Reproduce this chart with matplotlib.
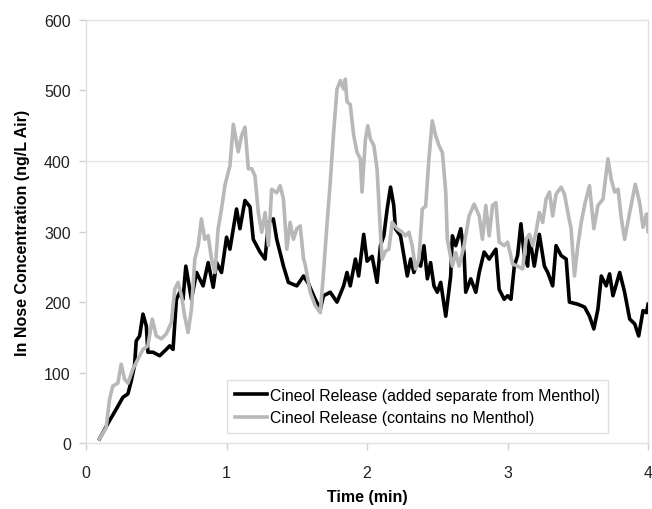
import matplotlib
matplotlib.use("Agg")
import matplotlib.pyplot as plt

plt.rcParams['font.family'] = ['Liberation Sans', 'DejaVu Sans']

# Cineol added separate from menthol (black)
t_black = [0.095, 0.167, 0.214, 0.262, 0.298, 0.32, 0.345, 0.357, 0.381, 0.405,
           0.429, 0.44, 0.476, 0.524, 0.571, 0.595, 0.619, 0.643, 0.667, 0.69,
           0.71, 0.75, 0.786, 0.833, 0.869, 0.905, 0.929, 0.964, 1.0, 1.024,
           1.071, 1.095, 1.131, 1.167, 1.19, 1.238, 1.274, 1.298, 1.333, 1.357,
           1.405, 1.44, 1.5, 1.548, 1.583, 1.631, 1.667, 1.69, 1.738, 1.786,
           1.833, 1.857, 1.88, 1.917, 1.94, 1.976, 2.0, 2.036, 2.071, 2.095,
           2.119, 2.143, 2.167, 2.19, 2.202, 2.238, 2.262, 2.286, 2.31, 2.333,
           2.357, 2.381, 2.405, 2.429, 2.452, 2.476, 2.5, 2.524, 2.56, 2.595,
           2.607, 2.631, 2.667, 2.69, 2.702, 2.738, 2.774, 2.798, 2.833, 2.869,
           2.917, 2.94, 2.976, 3.0, 3.024, 3.048, 3.071, 3.095, 3.119, 3.143,
           3.155, 3.19, 3.226, 3.262, 3.286, 3.321, 3.345, 3.381, 3.417, 3.44,
           3.5, 3.548, 3.583, 3.614, 3.643, 3.667, 3.702, 3.726, 3.75, 3.798,
           3.833, 3.869, 3.905, 3.933, 3.964, 3.988, 4.0]
v_black = [6, 32, 48, 65, 70, 87, 110, 145, 152, 183,
           166, 129, 129, 124, 133, 138, 133, 204, 214, 204,
           251, 204, 242, 223, 256, 221, 256, 242, 292, 275,
           332, 304, 344, 335, 289, 271, 261, 313, 318, 289,
           251, 228, 223, 237, 226, 204, 190, 209, 214, 200,
           223, 242, 223, 261, 237, 296, 258, 265, 228, 280,
           294, 332, 363, 337, 304, 294, 266, 237, 261, 242,
           256, 251, 280, 233, 256, 223, 214, 228, 180, 237,
           294, 280, 304, 270, 214, 233, 214, 242, 271, 261,
           275, 218, 204, 209, 204, 251, 266, 311, 266, 251,
           294, 251, 296, 251, 242, 223, 280, 266, 261, 200,
           197, 193, 180, 162, 190, 237, 223, 240, 209, 242,
           214, 176, 169, 152, 188, 185, 197]

# Cineol, no menthol (grey)
t_grey = [0.095, 0.143, 0.167, 0.19, 0.226, 0.25, 0.274, 0.298, 0.333, 0.369,
          0.405, 0.44, 0.471, 0.5, 0.536, 0.571, 0.607, 0.631, 0.655, 0.679,
          0.702, 0.726, 0.75, 0.774, 0.798, 0.821, 0.845, 0.869, 0.893, 0.917,
          0.94, 0.964, 0.988, 1.0, 1.024, 1.048, 1.083, 1.107, 1.131, 1.155,
          1.179, 1.202, 1.226, 1.25, 1.274, 1.298, 1.321, 1.357, 1.381, 1.405,
          1.429, 1.452, 1.476, 1.5, 1.524, 1.548, 1.56, 1.595, 1.631, 1.667,
          1.69, 1.714, 1.738, 1.762, 1.786, 1.81, 1.833, 1.845, 1.857, 1.88,
          1.905, 1.929, 1.952, 1.964, 1.988, 2.005, 2.024, 2.048, 2.071, 2.095,
          2.107, 2.131, 2.155, 2.179, 2.214, 2.25, 2.274, 2.298, 2.321, 2.345,
          2.369, 2.393, 2.417, 2.44, 2.464, 2.488, 2.512, 2.536, 2.56, 2.571,
          2.607, 2.631, 2.655, 2.69, 2.726, 2.762, 2.798, 2.821, 2.845, 2.869,
          2.893, 2.917, 2.94, 2.976, 3.0, 3.036, 3.071, 3.107, 3.131, 3.155,
          3.179, 3.202, 3.226, 3.25, 3.274, 3.298, 3.321, 3.345, 3.381, 3.405,
          3.429, 3.452, 3.476, 3.5, 3.524, 3.552, 3.583, 3.614, 3.643, 3.679,
          3.714, 3.738, 3.762, 3.786, 3.81, 3.833, 3.869, 3.909, 3.94, 3.964,
          3.988, 4.0]
v_grey = [6, 22, 62, 81, 85, 112, 91, 85, 105, 119,
          133, 138, 176, 152, 148, 155, 171, 218, 228, 209,
          180, 157, 190, 261, 280, 318, 289, 294, 261, 242,
          304, 332, 365, 375, 393, 452, 413, 436, 448, 389,
          389, 379, 327, 299, 327, 280, 360, 355, 365, 346,
          275, 313, 289, 304, 308, 261, 253, 214, 195, 185,
          242, 308, 370, 441, 502, 514, 502, 516, 484, 480,
          436, 412, 403, 356, 430, 450, 431, 422, 389, 299,
          261, 272, 275, 313, 304, 299, 294, 299, 280, 247,
          261, 332, 336, 403, 457, 436, 422, 412, 356, 289,
          251, 270, 251, 280, 322, 339, 322, 289, 337, 294,
          337, 341, 285, 280, 285, 254, 251, 247, 289, 296,
          280, 299, 327, 313, 346, 356, 322, 353, 363, 353,
          327, 304, 237, 280, 313, 341, 365, 304, 337, 346,
          403, 374, 356, 360, 318, 289, 327, 367, 341, 306,
          325, 300]

x_ticks = [0, 1, 2, 3, 4]
y_ticks = [0, 100, 200, 300, 400, 500, 600]

fig = plt.figure(figsize=(6.52, 5.10), dpi=100)
ax = fig.add_axes([0.132, 0.129, 0.862, 0.830])

ax.plot(t_black, v_black, color='black', lw=2.6, zorder=3,
        label='Cineol Release (added separate from Menthol)')
ax.plot(t_grey, v_grey, color='#b8b8b8', lw=2.6, zorder=4,
        label='Cineol Release (contains no Menthol)')

ax.axhline(400, color='#e6e6e6', lw=1.0, zorder=1)

ax.set_xlim(0, 4)
ax.set_ylim(0, 600)
ax.set_xticks(x_ticks)
ax.set_yticks(y_ticks)
ax.tick_params(axis='both', colors='#d0d0d0', labelcolor='#222222',
               labelsize=11.5, length=5, width=1)
ax.tick_params(axis='x', pad=11)
ax.tick_params(axis='y', pad=6)
for s in ax.spines.values():
    s.set_color('#e0e0e0')
    s.set_linewidth(1.0)

ax.set_xlabel('Time (min)', fontsize=11.5, fontweight='bold', labelpad=6)
ax.set_ylabel('In Nose Concentration (ng/L Air)', fontsize=11.5,
              fontweight='bold', labelpad=10)

leg = ax.legend(loc='lower left', bbox_to_anchor=(0.251, 0.024),
                fontsize=11.4, frameon=True, fancybox=False, handlelength=2.0,
                handletextpad=0.2, borderpad=0.5, labelspacing=0.45,
                borderaxespad=0)
leg.get_frame().set_edgecolor('#d8d8d8')
leg.get_frame().set_linewidth(1.0)
for h in leg.get_lines():
    h.set_linewidth(2.6)

fig.savefig('out.png', dpi=100)
